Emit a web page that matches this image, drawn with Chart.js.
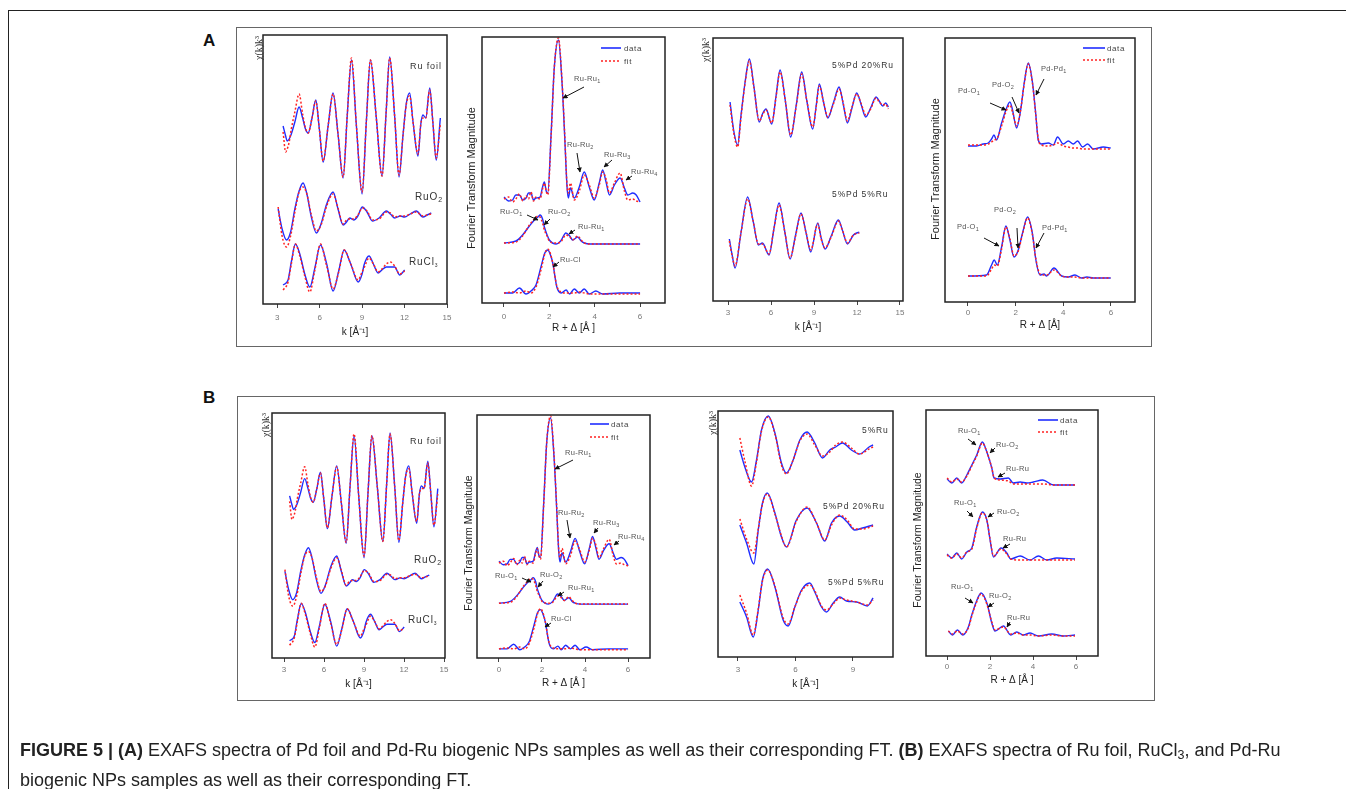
<!DOCTYPE html>
<html><head><meta charset="utf-8">
<script src="https://cdn.jsdelivr.net/npm/chart.js@4.4.0/dist/chart.umd.min.js"></script>
<style>
html,body{margin:0;padding:0;background:#fff;width:1346px;height:789px;overflow:hidden;font-family:"Liberation Sans",Arial,sans-serif;}
canvas{position:absolute;}
.frame{position:absolute;border:1.5px solid #222;}
.box{position:absolute;border:1.5px solid #666;}
.lbl{position:absolute;font-size:7.5px;color:#555;white-space:nowrap;transform:translateY(-50%);letter-spacing:0.3px;}
.lbl sub{font-size:5.5px;vertical-align:-2px;}
.samp{position:absolute;font-size:9px;color:#333;white-space:nowrap;transform:translateY(-50%);letter-spacing:0.9px;}
.samp sub{font-size:7px;vertical-align:-2px;}
.samp.big{font-size:10px;}
.ytitle{position:absolute;font-size:11px;color:#222;white-space:nowrap;transform:translate(-50%,-50%) rotate(-90deg);}
.chi{position:absolute;font-family:"Liberation Serif","DejaVu Serif",serif;font-size:10px;color:#333;white-space:nowrap;transform:translate(-50%,-50%) rotate(-90deg);}
.leg{position:absolute;font-size:8px;color:#444;white-space:nowrap;transform:translateY(-50%);letter-spacing:0.6px;}
.plab{position:absolute;font-weight:bold;font-size:17px;color:#111;transform:translateY(-50%);}
.cap{position:absolute;left:20px;top:735px;font-size:18px;line-height:30px;color:#222;white-space:nowrap;}
.cap sub{font-size:12.5px;vertical-align:-3px;line-height:0;}
svg{position:absolute;left:0;top:0;}
</style>
</head><body>
<div class="frame" style="left:8px;top:10px;width:1346px;height:800px;"></div>
<div class="box" style="left:236px;top:27px;width:914px;height:318px;"></div>
<div class="box" style="left:237px;top:396px;width:916px;height:303px;"></div>
<div class="plab" style="left:203px;top:41px;">A</div>
<div class="plab" style="left:203px;top:398px;">B</div>

<script>
// ---------- tick labels ----------
const TICKS_K = [3, 6, 9, 12, 15];
const TICKS_K_SHORT = [3, 6, 9];
const TICKS_R = [0, 2, 4, 6];

// ---------- Ru foil / RuO2 / RuCl3 EXAFS (panels A1 and B1) ----------
const kRuFoil = [3.42,3.6,3.71,3.85,4.0,4.25,4.55,4.8,5.0,5.19,5.45,5.73,5.98,6.25,6.6,6.95,7.3,7.66,7.95,8.25,8.6,9.0,9.3,9.59,10.0,10.41,10.7,10.95,11.3,11.61,11.9,12.13,12.36,12.6,12.95,13.15,13.3,13.5,13.78,14.0,14.24,14.53];
const ruFoilData = [178,168,163,165,170,182,197,186,175,171,185,204,175,142,178,211,170,126,188,244,178,110,182,244,187,128,192,247,188,127,170,201,211,182,148,180,189,186,216,182,144,186];
const ruFoilFit = [172,152,155,162,175,192,210,190,176,171,185,203,175,143,178,210,170,127,188,246,178,112,182,244,187,128,192,246,188,129,170,200,208,182,150,180,186,186,214,182,146,180];

const kRuO2 = [3.07,3.35,3.66,3.95,4.25,4.55,4.83,5.1,5.4,5.77,6.1,6.5,6.95,7.3,7.66,7.9,8.13,8.41,8.7,9.02,9.35,9.73,10.2,10.72,11.0,11.31,11.7,12.0,12.4,12.83,13.3,13.6,13.89];
const ruO2Data = [95,75,64,72,95,113,121,110,88,71,80,100,112,95,79,82,86,84,88,97,92,83,86,93,90,86,88,87,90,93,87,89,91];
const ruO2Fit = [97,68,57,68,92,112,117,110,90,73,79,98,110,96,80,84,85,85,89,96,93,84,85,92,91,87,88,88,90,92,88,89,90];

const kRuCl3 = [3.42,3.77,4.0,4.29,4.6,4.95,5.31,5.65,6.06,6.5,6.95,7.35,7.73,8.2,8.72,9.0,9.14,9.49,9.8,10.13,10.4,10.71,11.0,11.3,11.66,12.01];
const ruCl3Data = [19,24,42,60,50,30,17,35,59,40,13,33,54,40,22,30,39,48,40,31,34,37,37,37,29,34];
const ruCl3Fit = [14,22,40,60,48,28,12,33,60,38,15,32,54,40,24,32,36,46,40,32,35,40,42,38,30,33];

// ---------- Ru foil / RuO2 / RuCl3 FT (panels A2 and B2) ----------
const rFoil = [0.0,0.2,0.38,0.52,0.68,0.83,0.97,1.08,1.19,1.3,1.41,1.59,1.7,1.78,1.86,1.93,2.08,2.22,2.4,2.56,2.67,2.78,2.84,2.93,3.1,3.32,3.54,3.76,3.98,4.2,4.35,4.5,4.65,4.87,5.12,5.31,5.46,5.68,5.83,6.0];
const foilFTData = [106,102,103,108,108,103,105,110,110,103,105,106,116,121,112,110,170,236,263,220,170,116,105,115,105,116,131,116,103,120,133,121,108,118,125,115,108,110,108,101];
const foilFTFit = [104,106,101,104,109,102,107,104,111,102,106,104,114,120,112,108,168,236,265,222,172,118,110,120,103,112,128,118,105,118,131,124,110,120,130,112,103,104,102,101];

const rO2 = [0,0.53,0.82,1.12,1.34,1.5,1.59,1.7,1.78,1.9,2.0,2.3,2.5,2.73,2.9,3.03,3.25,3.4,3.54,3.8,4.5,5.0,6.0];
const o2FTData = [60,62,68,77,83,86,88,84,76,68,63,59,62,70,67,63,66,62,60,59,59,59,59];
const o2FTFit = [60,61,67,78,84,87,86,80,73,67,62,60,61,68,66,63,67,63,60,59,59,59,59];

const rCl = [0,0.38,0.68,0.97,1.19,1.41,1.63,1.8,1.93,2.05,2.15,2.33,2.52,2.74,2.89,3.1,3.32,3.54,3.76,4.05,4.35,5.09,6.0];
const clFTData = [10,10,15,9,12,18,36,50,53,48,40,16,10,13,9,14,10,14,9,12,9,10,10];
const clFTFit = [10,11,10,12,10,16,33,49,54,49,40,17,11,10,10,10,11,10,9,9,9,9,9];

// ---------- Pd-Ru EXAFS, Pd edge (panel A3) ----------
const kPd20 = [3.14,3.4,3.67,3.9,4.2,4.49,4.8,5.18,5.4,5.65,6.05,6.35,6.63,7.0,7.37,7.75,8.14,8.5,8.91,9.15,9.37,9.65,9.96,10.35,10.75,11.05,11.33,11.65,11.98,12.3,12.61,12.95,13.33,13.55,13.8,14.0,14.19];
const pd20Data = [199,170,156,185,220,242,215,179,187,192,177,205,231,200,164,195,229,200,172,195,217,200,183,198,214,196,178,193,208,196,184,193,204,200,195,198,194];
const pd20Fit = [196,168,154,183,219,240,214,180,186,191,178,204,229,200,166,194,227,200,174,194,215,200,184,197,212,197,180,194,207,197,186,192,203,199,196,197,192];

const kPd5 = [3.09,3.3,3.49,3.9,4.37,4.75,5.12,5.4,5.86,6.2,6.56,6.95,7.33,7.7,8.09,8.45,8.77,9.26,9.5,9.77,10.2,10.7,11.0,11.33,11.75,12.16];
const pd5Data = [62,45,33,68,104,80,56,58,46,72,98,70,42,65,88,68,49,78,63,52,65,81,70,57,66,69];
const pd5Fit = [60,44,35,68,102,80,57,57,47,72,96,70,43,64,87,68,51,77,62,53,64,80,70,58,66,68];

// ---------- Pd-Ru FT, Pd edge (panel A4) ----------
const rPdTop = [0,0.36,0.64,0.85,0.99,1.09,1.2,1.41,1.59,1.76,1.87,2.04,2.21,2.36,2.53,2.71,2.84,2.95,3.09,3.37,3.58,3.76,4.0,4.21,4.42,4.6,4.81,5.02,5.26,5.68,5.99];
const pdTopData = [156,156,158,159,163,167,162,179,192,200,192,174,192,219,239,219,189,162,158,159,157,165,158,161,158,161,155,158,153,155,154];
const pdTopFit = [157,157,157,158,160,162,163,176,190,197,190,176,192,218,238,218,188,163,157,156,157,159,156,155,154,154,153,153,153,153,153];

const rPdBot = [0,0.78,0.99,1.1,1.23,1.41,1.59,1.76,1.93,2.11,2.29,2.5,2.7,2.85,3.02,3.19,3.3,3.61,3.93,4.21,4.49,4.77,4.99,5.26,5.99];
const pdBotData = [26,27,37,42,37,55,76,62,45,52,69,85,69,42,27,28,26,34,26,25,27,24,25,24,24];
const pdBotFit = [26,26,33,37,36,53,75,63,46,51,68,84,68,43,28,27,27,32,26,25,25,24,24,24,24];

// ---------- Ru-edge EXAFS of biogenic samples (panel B3) ----------
const kRu5 = [3.1,3.36,3.71,3.97,4.23,4.58,4.93,5.27,5.53,5.88,6.23,6.61,7.01,7.41,7.79,8.1,8.45,8.92,9.35,9.84,10.05];
const ru5Data = [207,190,175,197,227,241,224,194,184,197,217,225,214,199,207,210,214,207,203,210,212];
const ru5Fit = [219,196,171,195,226,240,223,192,183,197,216,223,212,201,205,212,215,209,203,208,210];

const kPd20Ru = [3.1,3.45,3.83,4.06,4.28,4.53,4.93,5.27,5.53,6.05,6.61,7.1,7.53,7.88,8.31,8.7,9.09,9.5,10.05];
const pd20RuData = [132,114,93,127,154,164,144,120,110,137,149,134,116,134,141,135,127,129,132];
const pd20RuFit = [138,118,104,128,153,163,143,121,110,136,150,134,117,132,142,137,128,128,131];

const kPd5Ru = [3.1,3.45,3.8,4.06,4.28,4.55,4.93,5.36,5.62,5.97,6.32,6.75,7.01,7.36,7.62,7.97,8.31,8.66,9.2,9.75,10.05];
const pd5RuData = [55,40,20,47,77,88,70,37,31,50,67,74,65,50,45,54,60,56,55,51,59];
const pd5RuFit = [62,44,22,48,76,87,71,39,33,50,66,72,66,51,47,53,59,57,55,52,57];

// ---------- Ru-edge FT of biogenic samples (panel B4) ----------
const rRu5 = [0,0.22,0.45,0.68,0.92,1.15,1.38,1.64,1.85,2.08,2.19,2.47,2.85,3.08,3.4,3.71,4.01,4.45,4.95,5.41,5.95];
const ru5FTData = [177,173,178,173,181,191,201,214,204,188,178,177,178,173,174,173,174,176,171,171,171];
const ru5FTFit = [178,174,177,174,180,190,200,213,204,188,178,176,175,172,172,172,172,172,171,171,171];

const rPd20FT = [0,0.22,0.45,0.68,0.92,1.15,1.38,1.64,1.85,2.0,2.16,2.51,2.78,2.96,3.4,3.86,4.25,4.64,5.1,5.95];
const pd20FTData = [102,98,103,97,104,108,129,144,136,116,99,108,103,97,100,96,100,96,98,97];
const pd20FTFit = [101,98,102,98,104,107,128,143,136,117,100,107,102,97,96,96,96,96,96,96];

const rPd5FT = [0.06,0.25,0.48,0.73,0.99,1.15,1.34,1.58,1.85,2.08,2.23,2.62,2.96,3.24,3.55,3.86,4.25,4.87,5.41,5.95];
const pd5FTData = [25,21,26,21,29,41,53,63,53,33,25,30,21,24,21,23,20,22,20,21];
const pd5FTFit = [25,22,25,22,28,40,52,62,52,34,26,29,22,23,21,21,20,21,20,20];

// ---------- drawing ----------
const BLUE = '#1f2dff', RED = '#ff2222';
const PAD = {left: 30, right: 30, top: 12, bottom: 6};

const framePlugin = {
  id: 'frame',
  afterDatasetsDraw(c) {
    const a = c.chartArea, ctx = c.ctx;
    ctx.save();
    ctx.strokeStyle = '#222';
    ctx.lineWidth = 1.5;
    ctx.strokeRect(a.left, a.top, a.right - a.left, a.bottom - a.top);
    ctx.restore();
  }
};

function pts(xs, ys) { return xs.map((v, i) => ({x: v, y: ys[i]})); }

function makeChart(geo, xr, ymax, ticks, title, series) {
  const w = geo.r - geo.l, h = geo.b - geo.t;
  const cv = document.createElement('canvas');
  const cw = w + PAD.left + PAD.right, ch = h + PAD.top + geo.axisH + PAD.bottom;
  cv.width = cw; cv.height = ch;
  cv.style.left = (geo.l - PAD.left) + 'px';
  cv.style.top = (geo.t - PAD.top) + 'px';
  cv.style.width = cw + 'px'; cv.style.height = ch + 'px';
  document.body.appendChild(cv);
  const datasets = [];
  series.forEach(s => {
    datasets.push({data: pts(s[0], s[2]), borderColor: RED, borderWidth: 1.5, borderDash: [2, 2], order: 0});
    datasets.push({data: pts(s[0], s[1]), borderColor: BLUE, borderWidth: 1.4, order: 1});
  });
  return new Chart(cv, {
    type: 'line',
    data: {datasets},
    options: {
      responsive: false, animation: false, devicePixelRatio: 1,
      layout: {padding: PAD},
      plugins: {legend: {display: false}, tooltip: {enabled: false}},
      elements: {point: {radius: 0}, line: {cubicInterpolationMode: 'monotone', fill: false}},
      scales: {
        x: {
          type: 'linear', min: xr[0], max: xr[1],
          afterBuildTicks: s => { s.ticks = ticks.map(v => ({value: v})); },
          afterFit: s => { s.height = geo.axisH; s.paddingLeft = 0; s.paddingRight = 0; },
          grid: {display: true, drawOnChartArea: false, drawTicks: true, tickLength: 4, color: '#444', lineWidth: 1},
          border: {display: false},
          ticks: {font: {size: 8, family: 'Liberation Sans'}, color: '#777', padding: geo.tickPad, maxRotation: 0, autoSkip: false},
          title: {display: true, text: title, font: {size: 10, family: 'Liberation Sans'}, color: '#222', padding: 0}
        },
        y: {type: 'linear', display: false, min: 0, max: ymax}
      }
    },
    plugins: [framePlugin]
  });
}

const TITLE_K = 'k [Å⁻¹]';
const TITLE_R = 'R + Δ [Å ]';

const ruRefSeries = [[kRuFoil, ruFoilData, ruFoilFit], [kRuO2, ruO2Data, ruO2Fit], [kRuCl3, ruCl3Data, ruCl3Fit]];
const ruRefFTSeries = [[rFoil, foilFTData, foilFTFit], [rO2, o2FTData, o2FTFit], [rCl, clFTData, clFTFit]];

// Panel A
makeChart({l: 263, t: 35, r: 447, b: 304, axisH: 34, tickPad: 5}, [2, 15], 269, TICKS_K, TITLE_K, ruRefSeries);
makeChart({l: 482, t: 37, r: 665, b: 303, axisH: 31, tickPad: 5}, [-0.97, 7.1], 266, TICKS_R, TITLE_R, ruRefFTSeries);
makeChart({l: 713, t: 38, r: 903, b: 301, axisH: 32, tickPad: 3}, [1.95, 15.21], 263, TICKS_K, TITLE_K,
  [[kPd20, pd20Data, pd20Fit], [kPd5, pd5Data, pd5Fit]]);
makeChart({l: 945, t: 38, r: 1135, b: 302, axisH: 29, tickPad: 2}, [-0.965, 7.01], 264, TICKS_R, 'R + Δ [Å]',
  [[rPdTop, pdTopData, pdTopFit], [rPdBot, pdBotData, pdBotFit]]);
// Panel B
makeChart({l: 272, t: 413, r: 445, b: 658, axisH: 32, tickPad: 3}, [2.1, 15.07], 269, TICKS_K, TITLE_K, ruRefSeries);
makeChart({l: 477, t: 415, r: 650, b: 658, axisH: 31, tickPad: 3}, [-1.02, 7.02], 266, TICKS_R, TITLE_R, ruRefFTSeries);
makeChart({l: 718, t: 411, r: 893, b: 657, axisH: 33, tickPad: 4}, [1.96, 11.09], 246, TICKS_K_SHORT, TITLE_K,
  [[kRu5, ru5Data, ru5Fit], [kPd20Ru, pd20RuData, pd20RuFit], [kPd5Ru, pd5RuData, pd5RuFit]]);
makeChart({l: 926, t: 410, r: 1098, b: 656, axisH: 30, tickPad: 2}, [-0.98, 7.02], 246, TICKS_R, TITLE_R,
  [[rRu5, ru5FTData, ru5FTFit], [rPd20FT, pd20FTData, pd20FTFit], [rPd5FT, pd5FTData, pd5FTFit]]);
</script>

<!-- y-axis titles -->
<div class="chi" style="left:258px;top:48px;">χ(k)k³</div>
<div class="chi" style="left:705px;top:50px;">χ(k)k³</div>
<div class="chi" style="left:265px;top:425px;">χ(k)k³</div>
<div class="chi" style="left:712px;top:423px;">χ(k)k³</div>
<div class="ytitle" style="left:471px;top:178px;">Fourier Transform Magnitude</div>
<div class="ytitle" style="left:935px;top:169px;">Fourier Transform Magnitude</div>
<div class="ytitle" style="left:468px;top:543px;font-size:10.5px;">Fourier Transform Magnitude</div>
<div class="ytitle" style="left:917px;top:540px;font-size:10.5px;">Fourier Transform Magnitude</div>

<!-- sample names -->
<div class="samp" style="left:410px;top:66px;">Ru foil</div>
<div class="samp big" style="left:415px;top:197px;">RuO<sub>2</sub></div>
<div class="samp big" style="left:409px;top:262px;">RuCl<sub style="font-size:5px">3</sub></div>
<div class="samp" style="left:410px;top:441px;">Ru foil</div>
<div class="samp big" style="left:414px;top:560px;">RuO<sub>2</sub></div>
<div class="samp big" style="left:408px;top:620px;">RuCl<sub style="font-size:5px">3</sub></div>
<div class="samp" style="left:832px;top:65px;font-size:8.5px;">5%Pd 20%Ru</div>
<div class="samp" style="left:832px;top:194px;font-size:8.5px;">5%Pd 5%Ru</div>
<div class="samp" style="left:862px;top:430px;font-size:8.5px;">5%Ru</div>
<div class="samp" style="left:823px;top:506px;font-size:8.5px;">5%Pd 20%Ru</div>
<div class="samp" style="left:828px;top:582px;font-size:8.5px;">5%Pd 5%Ru</div>

<!-- peak labels -->
<div class="lbl" style="left:574px;top:79px;">Ru-Ru<sub>1</sub></div>
<div class="lbl" style="left:567px;top:145px;">Ru-Ru<sub>2</sub></div>
<div class="lbl" style="left:604px;top:155px;">Ru-Ru<sub>3</sub></div>
<div class="lbl" style="left:631px;top:172px;">Ru-Ru<sub>4</sub></div>
<div class="lbl" style="left:500px;top:212px;">Ru-O<sub>1</sub></div>
<div class="lbl" style="left:548px;top:212px;">Ru-O<sub>2</sub></div>
<div class="lbl" style="left:578px;top:227px;">Ru-Ru<sub>1</sub></div>
<div class="lbl" style="left:560px;top:259px;">Ru-Cl</div>

<div class="lbl" style="left:958px;top:91px;">Pd-O<sub>1</sub></div>
<div class="lbl" style="left:992px;top:85px;">Pd-O<sub>2</sub></div>
<div class="lbl" style="left:1041px;top:69px;">Pd-Pd<sub>1</sub></div>
<div class="lbl" style="left:994px;top:210px;">Pd-O<sub>2</sub></div>
<div class="lbl" style="left:957px;top:227px;">Pd-O<sub>1</sub></div>
<div class="lbl" style="left:1042px;top:228px;">Pd-Pd<sub>1</sub></div>

<div class="lbl" style="left:565px;top:453px;">Ru-Ru<sub>1</sub></div>
<div class="lbl" style="left:558px;top:513px;">Ru-Ru<sub>2</sub></div>
<div class="lbl" style="left:593px;top:523px;">Ru-Ru<sub>3</sub></div>
<div class="lbl" style="left:618px;top:537px;">Ru-Ru<sub>4</sub></div>
<div class="lbl" style="left:495px;top:576px;">Ru-O<sub>1</sub></div>
<div class="lbl" style="left:540px;top:575px;">Ru-O<sub>2</sub></div>
<div class="lbl" style="left:568px;top:588px;">Ru-Ru<sub>1</sub></div>
<div class="lbl" style="left:551px;top:618px;">Ru-Cl</div>

<div class="lbl" style="left:958px;top:431px;">Ru-O<sub>1</sub></div>
<div class="lbl" style="left:996px;top:445px;">Ru-O<sub>2</sub></div>
<div class="lbl" style="left:1006px;top:468px;">Ru-Ru</div>
<div class="lbl" style="left:954px;top:503px;">Ru-O<sub>1</sub></div>
<div class="lbl" style="left:997px;top:512px;">Ru-O<sub>2</sub></div>
<div class="lbl" style="left:1003px;top:538px;">Ru-Ru</div>
<div class="lbl" style="left:951px;top:587px;">Ru-O<sub>1</sub></div>
<div class="lbl" style="left:989px;top:596px;">Ru-O<sub>2</sub></div>
<div class="lbl" style="left:1007px;top:617px;">Ru-Ru</div>

<!-- legends -->
<div class="leg" style="left:624px;top:48px;">data</div>
<div class="leg" style="left:624px;top:61px;">fit</div>
<div class="leg" style="left:1107px;top:48px;">data</div>
<div class="leg" style="left:1107px;top:60px;">fit</div>
<div class="leg" style="left:611px;top:424px;">data</div>
<div class="leg" style="left:611px;top:437px;">fit</div>
<div class="leg" style="left:1060px;top:420px;">data</div>
<div class="leg" style="left:1060px;top:432px;">fit</div>

<svg width="1346" height="789" id="ov">
<defs><marker id="ah" viewBox="0 0 10 10" refX="9" refY="5" markerWidth="5" markerHeight="5" orient="auto"><path d="M0,0 L10,5 L0,10 z" fill="#111"/></marker></defs>
<g stroke="#111" stroke-width="1" marker-end="url(#ah)">
<line x1="584" y1="87" x2="563" y2="98"/>
<line x1="577" y1="153" x2="580" y2="172"/>
<line x1="612" y1="160" x2="604" y2="167"/>
<line x1="632" y1="176" x2="626" y2="180"/>
<line x1="527" y1="215" x2="538" y2="220"/>
<line x1="550" y1="219" x2="544" y2="225"/>
<line x1="575" y1="230" x2="569" y2="234"/>
<line x1="559" y1="262" x2="553" y2="267"/>

<line x1="990" y1="103" x2="1006" y2="110"/>
<line x1="1012" y1="97" x2="1019" y2="113"/>
<line x1="1044" y1="79" x2="1036" y2="95"/>
<line x1="1017" y1="228" x2="1018" y2="248"/>
<line x1="984" y1="238" x2="999" y2="246"/>
<line x1="1044" y1="233" x2="1036" y2="248"/>

<line x1="573" y1="460" x2="555" y2="469"/>
<line x1="567" y1="520" x2="570" y2="538"/>
<line x1="598" y1="528" x2="594" y2="533"/>
<line x1="619" y1="541" x2="614" y2="545"/>
<line x1="522" y1="578" x2="531" y2="582"/>
<line x1="543" y1="581" x2="538" y2="587"/>
<line x1="564" y1="592" x2="558" y2="596"/>
<line x1="551" y1="623" x2="545" y2="627"/>

<line x1="968" y1="439" x2="976" y2="445"/>
<line x1="995" y1="448" x2="990" y2="453"/>
<line x1="1005" y1="473" x2="998" y2="477"/>
<line x1="967" y1="511" x2="973" y2="517"/>
<line x1="994" y1="513" x2="988" y2="517"/>
<line x1="1010" y1="544" x2="1003" y2="548"/>
<line x1="965" y1="598" x2="973" y2="603"/>
<line x1="994" y1="603" x2="988" y2="607"/>
<line x1="1010" y1="622" x2="1007" y2="627"/>
</g>
<g stroke-width="1.6">
<line x1="601" y1="48" x2="621" y2="48" stroke="#1f2dff"/>
<line x1="601" y1="61" x2="621" y2="61" stroke="#ff2222" stroke-dasharray="2,2"/>
<line x1="1083" y1="48" x2="1105" y2="48" stroke="#1f2dff"/>
<line x1="1083" y1="60" x2="1105" y2="60" stroke="#ff2222" stroke-dasharray="2,2"/>
<line x1="590" y1="424" x2="609" y2="424" stroke="#1f2dff"/>
<line x1="590" y1="437" x2="609" y2="437" stroke="#ff2222" stroke-dasharray="2,2"/>
<line x1="1038" y1="420" x2="1058" y2="420" stroke="#1f2dff"/>
<line x1="1038" y1="432" x2="1058" y2="432" stroke="#ff2222" stroke-dasharray="2,2"/>
</g>
</svg>

<div class="cap"><b>FIGURE 5 | (A)</b> EXAFS spectra of Pd foil and Pd-Ru biogenic NPs samples as well as their corresponding FT. <b>(B)</b> EXAFS spectra of Ru foil, RuCl<sub>3</sub>, and Pd-Ru<br>biogenic NPs samples as well as their corresponding FT.</div>
</body></html>
